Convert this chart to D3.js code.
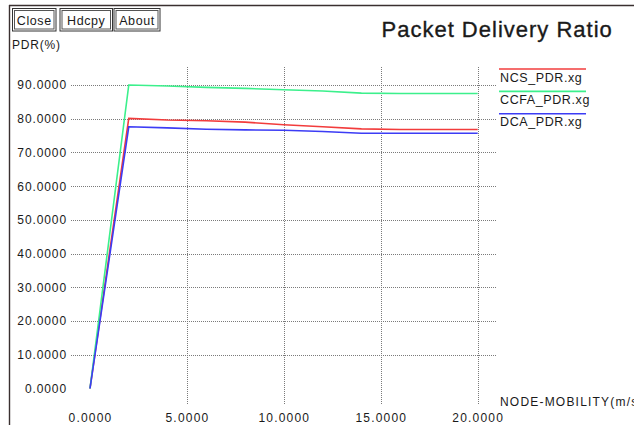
<!DOCTYPE html>
<html>
<head>
<meta charset="utf-8">
<script src="https://cdn.jsdelivr.net/npm/d3@7/dist/d3.min.js"></script>
<style>
  html, body { margin: 0; padding: 0; background: #fff; }
  svg { display: block; }
  text { font-family: "Liberation Sans", Arial, Helvetica, sans-serif; fill: #1a1a1a; }
</style>
</head>
<body>
<svg id="chart" width="634" height="425"></svg>
<script>
// Node mobility (m/s) on the x axis
const mobility = [0, 2, 4, 6, 8, 10, 12, 14, 16, 18, 20];

// Packet delivery ratio (%) per protocol
const ncsPdr  = [0, 80.1, 79.6, 79.4, 79.0, 78.2, 77.6, 77.0, 76.8, 76.8, 76.8];
const ccfaPdr = [0, 90.0, 89.7, 89.3, 89.0, 88.6, 88.2, 87.6, 87.5, 87.5, 87.5];
const dcaPdr  = [0, 77.6, 77.3, 76.9, 76.7, 76.6, 76.2, 75.7, 75.7, 75.7, 75.7];

const seriesNames  = ["NCS_PDR.xg", "CCFA_PDR.xg", "DCA_PDR.xg"];
const seriesColors = ["#f23c3c", "#3cf08c", "#3c3cf5"];

const xTicks = [0, 5, 10, 15, 20];
const yTicks = [0, 10, 20, 30, 40, 50, 60, 70, 80, 90];

const buttonLabels = ["Close", "Hdcpy", "About"];

const svg = d3.select("#chart");

const x = d3.scaleLinear().domain([0, 20]).range([90, 477.7]);
const y = d3.scaleLinear().domain([0, 90]).range([388.5, 85]);

// window frame
svg.append("line").attr("x1", 9).attr("x2", 634).attr("y1", 5.5).attr("y2", 5.5)
  .attr("stroke", "#3a3030").attr("stroke-width", 1.6);
svg.append("line").attr("x1", 9.5).attr("x2", 9.5).attr("y1", 5).attr("y2", 425)
  .attr("stroke", "#3a3030").attr("stroke-width", 1.4);

// toolbar buttons
const btnX = [12.5, 60, 114];
const btnW = [43.5, 52.5, 46];
const btn = svg.append("g").selectAll("g").data(buttonLabels).join("g")
  .attr("transform", (d, i) => `translate(${btnX[i]},8.5)`);
btn.append("rect").attr("width", (d, i) => btnW[i]).attr("height", 22.5)
  .attr("fill", "#fff").attr("stroke", "#333").attr("stroke-width", 1);
btn.append("rect").attr("x", 2).attr("y", 2)
  .attr("width", (d, i) => btnW[i] - 4).attr("height", 18.5)
  .attr("fill", "none").attr("stroke", "#555").attr("stroke-width", 1);
btn.append("text").attr("x", (d, i) => btnW[i] / 2).attr("y", 16)
  .attr("text-anchor", "middle").attr("font-size", 12.5).attr("letter-spacing", 0.6)
  .text(d => d);

// title and axis names
svg.append("text").attr("x", 381.5).attr("y", 37).attr("font-size", 22)
  .attr("letter-spacing", 1).attr("stroke", "#1a1a1a").attr("stroke-width", 0.35)
  .text("Packet Delivery Ratio");
svg.append("text").attr("x", 12).attr("y", 49).attr("font-size", 12)
  .attr("letter-spacing", 0.8).text("PDR(%)");
svg.append("text").attr("x", 500).attr("y", 406).attr("font-size", 12)
  .attr("letter-spacing", 1.2).text("NODE-MOBILITY(m/s)");

// grid
const grid = svg.append("g").attr("stroke", "#7a7a7a").attr("stroke-width", 1)
  .attr("stroke-dasharray", "1,1").attr("shape-rendering", "crispEdges");
grid.selectAll("line.h").data(yTicks.filter(v => v > 0)).join("line")
  .attr("class", "h")
  .attr("x1", 71).attr("x2", 497)
  .attr("y1", d => Math.round(y(d)) + 0.5).attr("y2", d => Math.round(y(d)) + 0.5);
grid.selectAll("line.v").data(xTicks.filter(v => v > 0)).join("line")
  .attr("class", "v")
  .attr("y1", 67).attr("y2", 405)
  .attr("x1", d => Math.round(x(d)) + 0.5).attr("x2", d => Math.round(x(d)) + 0.5);

// axis labels
const fmt = d3.format(".4f");
const yAxis = svg.append("g").attr("transform", "translate(71,0)")
  .call(d3.axisLeft(y).tickValues(yTicks).tickSize(0).tickPadding(4).tickFormat(fmt));
yAxis.select(".domain").remove();
yAxis.selectAll("text").attr("font-size", 12).attr("letter-spacing", 0.9)
  .attr("font-family", "Liberation Sans, Arial, sans-serif").attr("fill", "#1a1a1a");

const xAxis = svg.append("g").attr("transform", "translate(0,422)")
  .call(d3.axisBottom(x).tickValues(xTicks).tickSize(0).tickPadding(0).tickFormat(fmt));
xAxis.select(".domain").remove();
xAxis.selectAll("text").attr("y", 0).attr("dy", null).attr("font-size", 12)
  .attr("letter-spacing", 1.2)
  .attr("font-family", "Liberation Sans, Arial, sans-serif").attr("fill", "#1a1a1a");

// series lines
const series = [ncsPdr, ccfaPdr, dcaPdr];
const line = d3.line().x((d, i) => x(mobility[i])).y(d => y(d));
svg.append("g").selectAll("path").data(series).join("path")
  .attr("d", d => line(d))
  .attr("fill", "none")
  .attr("stroke", (d, i) => seriesColors[i])
  .attr("stroke-width", 1.6);

// legend
const legend = svg.append("g").selectAll("g").data(seriesNames).join("g")
  .attr("transform", (d, i) => `translate(499,${69 + i * 22.4})`);
legend.append("line").attr("x1", 0).attr("x2", 87).attr("y1", 0).attr("y2", 0)
  .attr("stroke", (d, i) => seriesColors[i]).attr("stroke-width", 1.6);
legend.append("text").attr("x", 1).attr("y", 12.5).attr("font-size", 12.5)
  .attr("letter-spacing", 0.6).text(d => d);
</script>
</body>
</html>
